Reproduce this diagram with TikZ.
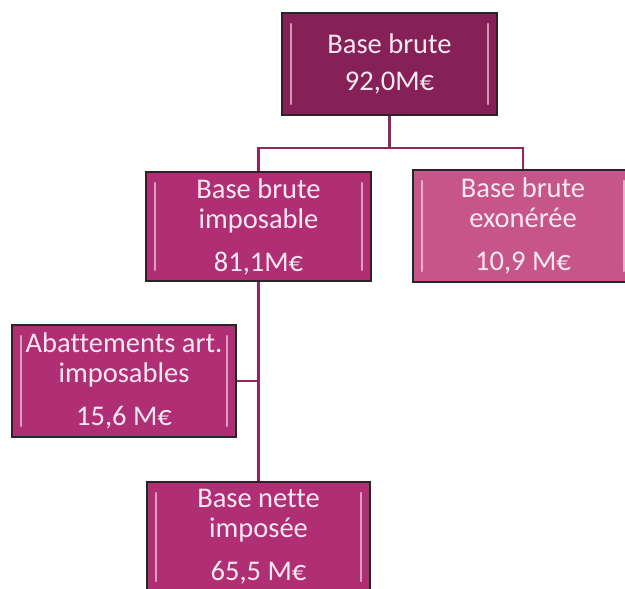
\documentclass[tikz,border=0pt]{standalone}
\usepackage{fontspec}
\setmainfont{Carlito}[Ligatures={NoCommon}]
\definecolor{prune}{RGB}{134,33,88}
\definecolor{fuchsia}{RGB}{176,46,116}
\definecolor{rose}{RGB}{198,86,138}
\definecolor{trait}{RGB}{146,38,90}
\definecolor{texte}{RGB}{250,232,242}
\tikzset{
	bloc/.style={draw=black!85,line width=1.4pt,text=texte,align=center,inner sep=0pt,
		font=\fontsize{28.5}{30}\selectfont,
		path picture={
			\draw[line width=2.4pt,white,opacity=0.55,line cap=round]
				([xshift=9pt,yshift=-11pt]path picture bounding box.north west)--([xshift=9pt,yshift=11pt]path picture bounding box.south west)
				([xshift=-9pt,yshift=-11pt]path picture bounding box.north east)--([xshift=-9pt,yshift=11pt]path picture bounding box.south east);
		}},
	lien/.style={draw=trait,line width=2.2pt}
}
\begin{document}
\begin{tikzpicture}[x=1pt,y=-1pt]
			\useasboundingbox (0,0) rectangle (625,589);
			\node[bloc,fill=prune,minimum width=215pt,minimum height=102pt] (brute) at (389.5,64) {Base brute\\[7pt]92,0M€};
			\node[bloc,fill=fuchsia,minimum width=225pt,minimum height=109pt] (imposable) at (258.5,226.5) {Base brute\\imposable\\[13pt]81,1M€};
			\node[bloc,fill=rose,minimum width=220pt,minimum height=112pt] (exoneree) at (523,226) {Base brute\\exonérée\\[13pt]10,9 M€};
			\node[bloc,fill=fuchsia,minimum width=224pt,minimum height=112pt] (abatt) at (124,381) {Abattements art.\\imposables\\[13pt]15,6 M€};
			\node[bloc,fill=fuchsia,minimum width=223pt,minimum height=110pt] (nette) at (258.5,537) {Base nette\\imposée\\[13pt]65,5 M€};
			\coordinate (fourche) at (389.5,148);
			\draw[lien] (brute.south)--(fourche)-|(imposable.north);
			\draw[lien] (fourche)-|(exoneree.north);
			\draw[lien] (imposable.south)--(nette.north);
			\draw[lien] (abatt.east)--(imposable.south|-abatt.east);
			\end{tikzpicture}
\end{document}
